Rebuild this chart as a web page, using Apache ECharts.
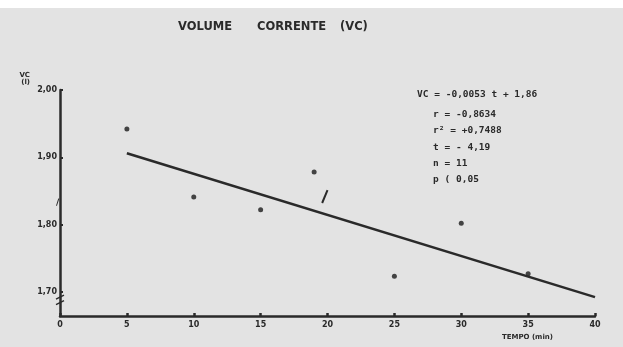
<!DOCTYPE html>
<html>
<head>
<meta charset="utf-8">
<script src="https://cdn.jsdelivr.net/npm/echarts@6/dist/echarts.min.js"></script>
<style>
html,body{margin:0;padding:0;background:#e3e3e3;}
#c{width:623px;height:347px;}
</style>
</head>
<body>
<div id="c"></div>
<script>
// Data
var titleWords = ['VOLUME', 'CORRENTE', '(VC)'];
var xTicks = [0, 5, 10, 15, 20, 25, 30, 35, 40];
var yTicks = [1.70, 1.80, 1.90, 2.00];
var pointT = [5, 10, 15, 19, 25, 30, 35];
var pointVC = [1.942, 1.841, 1.822, 1.878, 1.723, 1.802, 1.727];
var lineT = [5, 40];
var lineVC = [1.906, 1.692];
var statsLines = ['VC = -0,0053 t + 1,86', 'r = -0,8634', 'r\u00B2 = +0,7488', 't = - 4,19', 'n = 11', 'p ( 0,05'];

var ink = '#2a2a2a';
var font = 'DejaVu Sans';
var mono = 'DejaVu Sans Mono';

var chart = echarts.init(document.getElementById('c'));
var scatterData = pointT.map(function (t, i) { return [t, pointVC[i]]; });
var lineData = lineT.map(function (t, i) { return [t, lineVC[i]]; });

chart.setOption({
  backgroundColor: '#e3e3e3',
  animation: false,
  grid: { left: 60, right: 28, top: 90, bottom: 31, containLabel: false },
  xAxis: {
    type: 'value', min: 0, max: 40, interval: 5,
    name: 'TEMPO (min)', nameLocation: 'end',
    nameGap: 0,
    nameTextStyle: { fontFamily: font, fontSize: 7, fontWeight: 'bold', color: ink, align: 'right', verticalAlign: 'top', padding: [18, 42, 0, 0] },
    axisLine: { lineStyle: { color: ink, width: 2.5 } },
    axisTick: { inside: true, length: 3, lineStyle: { color: ink, width: 2.5 } },
    axisLabel: { fontFamily: font, fontSize: 8, fontWeight: 'bold', color: ink, margin: 5 },
    splitLine: { show: false }
  },
  yAxis: {
    type: 'value', min: 1.664, max: 2.0,
    name: 'VC\n(l)', nameLocation: 'end', nameGap: 4,
    nameTextStyle: { fontFamily: font, fontSize: 7, fontWeight: 'bold', color: ink, align: 'right', padding: [0, 30, -6, 0], lineHeight: 7 },
    axisLine: { lineStyle: { color: ink, width: 2.5 } },
    axisTick: { show: true, inside: true, length: 3, customValues: yTicks, lineStyle: { color: ink, width: 2 } },
    axisLabel: {
      customValues: yTicks, fontFamily: font, fontSize: 8, fontWeight: 'bold', color: ink, margin: 3,
      formatter: function (v) { return v.toFixed(2).replace('.', ','); }
    },
    splitLine: { show: false }
  },
  series: [
    {
      type: 'line', data: lineData, showSymbol: false, silent: true,
      lineStyle: { color: ink, width: 2.5 }
    },
    {
      type: 'scatter', data: scatterData, symbolSize: 5,
      itemStyle: { color: '#1a1a1a' }
    }
  ]
});

// Decorations placed via the axis scales
var g = [];
// title words
var titleX = [178, 257, 340];
titleWords.forEach(function (w, i) {
  g.push({ type: 'text', x: titleX[i], y: 27, style: { text: w, fontFamily: font, fontSize: 11.5, fontWeight: 'bold', fill: ink, verticalAlign: 'middle' } });
});
// statistics block
var statsPos = chart.convertToPixel({ gridIndex: 0 }, [26.7, 1.993]);
statsLines.forEach(function (s, i) {
  g.push({
    type: 'text',
    x: i === 0 ? statsPos[0] : statsPos[0] + 16,
    y: statsPos[1] + (i === 0 ? 0 : 20 + (i - 1) * 16.3),
    style: { text: s, fontFamily: mono, fontSize: 9.5, fontWeight: 'bold', fill: ink, verticalAlign: 'middle' }
  });
});
// axis break marks on y axis
var b1 = chart.convertToPixel({ gridIndex: 0 }, [0, 1.832]);
g.push({ type: 'text', x: b1[0] - 4, y: b1[1], style: { text: '\u2215', fontFamily: font, fontSize: 9, fontWeight: 'bold', fill: ink, verticalAlign: 'middle' } });
[1.692, 1.684].forEach(function (v) {
  var p = chart.convertToPixel({ gridIndex: 0 }, [0, v]);
  g.push({ type: 'line', shape: { x1: p[0] - 4, y1: p[1] + 2, x2: p[0] + 4, y2: p[1] - 2 }, style: { stroke: ink, lineWidth: 1.5 } });
});
// stray slash mark near t=20
var s1 = chart.convertToPixel({ gridIndex: 0 }, [19.6, 1.832]);
var s2 = chart.convertToPixel({ gridIndex: 0 }, [20.0, 1.851]);
g.push({ type: 'line', shape: { x1: s1[0], y1: s1[1], x2: s2[0], y2: s2[1] }, style: { stroke: ink, lineWidth: 2 } });
// white strip at top of the scan
g.push({ type: 'rect', left: 0, top: 0, shape: { width: 623, height: 8 }, style: { fill: '#ffffff' }, z: -1 });
chart.setOption({ graphic: g });
</script>
</body>
</html>
